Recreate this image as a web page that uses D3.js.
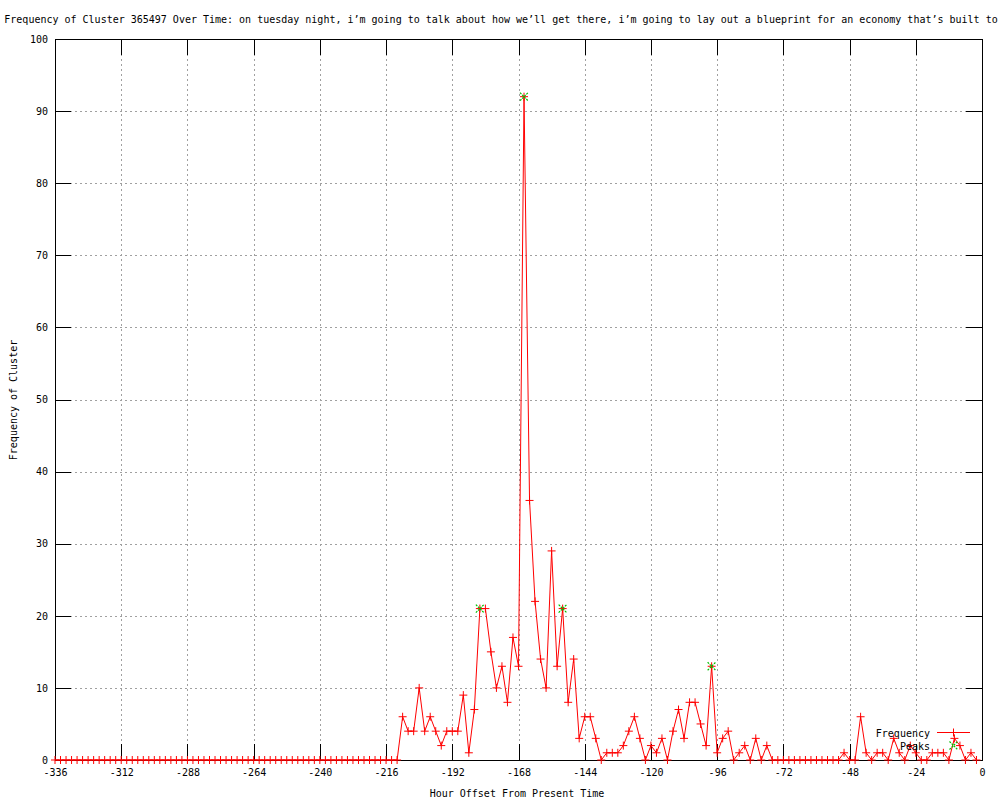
<!DOCTYPE html>
<html>
<head>
<meta charset="utf-8">
<script src="https://cdn.jsdelivr.net/npm/d3@7"></script>
<style>
  html, body { margin: 0; padding: 0; background: #fff; }
  svg { display: block; }
  text { font-family: "DejaVu Sans Mono", monospace; font-size: 10px; fill: #000; }
</style>
</head>
<body>
<svg id="chart" width="1000" height="800"></svg>
<script>
// ---- data ----
const titleText = "Frequency of Cluster 365497 Over Time: on tuesday night, i’m going to talk about how we’ll get there, i’m going to lay out a blueprint for an economy that’s built to";
const xLabel = "Hour Offset From Present Time";
const yLabel = "Frequency of Cluster";

// hours from -336 to -2, step 2
const hours = d3.range(-336, 0, 2);
const freqLeadingZeros = 63; // -336 .. -212
const freqTail = [
  6, 4, 4, 10, 4, 6, 4, 2, 4, 4, 4, 9, 1, 7,          // -210 .. -184
  21, 21, 15, 10, 13, 8, 17, 13, 92, 36, 22, 14, 10,  // -182 .. -158
  29, 13, 21, 8, 14, 3, 6, 6, 3, 0, 1, 1, 1, 2, 4,    // -156 .. -128
  6, 3, 0, 2, 1, 3, 0, 4, 7, 3, 8, 8, 5, 2, 13,       // -126 .. -98
  1, 3, 4, 0, 1, 2, 0, 3, 0, 2, 0,                    // -96 .. -76
  0, 0, 0, 0, 0, 0, 0, 0, 0, 0, 0, 0,                 // -74 .. -52
  1, 0, 0, 6, 1, 0, 1, 1, 0, 3, 1, 0, 2, 1,           // -50 .. -24
  0, 0, 1, 1, 1, 0, 3, 2, 0, 1, 0                     // -22 .. -2
];
const frequency = new Array(freqLeadingZeros).fill(0).concat(freqTail);

const peakHours = [-182, -166, -152, -98];
const peakValues = [21, 92, 21, 13];

const xTicks = d3.range(-336, 1, 24);
const yTicks = d3.range(0, 101, 10);

// ---- layout ----
const svg = d3.select("#chart");
const L = 55, R = 982, T = 39, B = 760;
const x = d3.scaleLinear().domain([-336, 0]).range([L, R]);
const y = d3.scaleLinear().domain([0, 100]).range([B, T]);

// grid
const grid = svg.append("g").attr("stroke", "#a0a0a0").attr("stroke-width", 1)
  .attr("stroke-dasharray", "2,3").attr("shape-rendering", "crispEdges");
xTicks.filter(t => t !== -336 && t !== 0).forEach(t => {
  grid.append("line").attr("x1", Math.round(x(t)) + 0.5).attr("x2", Math.round(x(t)) + 0.5)
    .attr("y1", T).attr("y2", B);
});
yTicks.filter(t => t !== 0 && t !== 100).forEach(t => {
  grid.append("line").attr("y1", Math.round(y(t)) + 0.5).attr("y2", Math.round(y(t)) + 0.5)
    .attr("x1", L).attr("x2", R);
});

// axes with inward ticks (mirrored)
const tickLen = 16;
const fmt = d => String(d);
const xAxisB = d3.axisBottom(x).tickValues(xTicks).tickSizeInner(-tickLen).tickSizeOuter(0).tickPadding(9).tickFormat(fmt);
const xAxisT = d3.axisTop(x).tickValues(xTicks).tickSizeInner(-tickLen).tickSizeOuter(0).tickFormat("");
const yAxisL = d3.axisLeft(y).tickValues(yTicks).tickSizeInner(-tickLen).tickSizeOuter(0).tickPadding(7).tickFormat(fmt);
const yAxisR = d3.axisRight(y).tickValues(yTicks).tickSizeInner(-tickLen).tickSizeOuter(0).tickFormat("");

function styleAxis(g) {
  g.select(".domain").remove();
  g.selectAll("line").attr("stroke", "#000").attr("shape-rendering", "crispEdges");
  g.selectAll("text").attr("font-family", "DejaVu Sans Mono, monospace").attr("font-size", 10).attr("fill", "#000");
}
svg.append("g").attr("transform", `translate(0,${B})`).call(xAxisB).call(styleAxis);
svg.append("g").attr("transform", `translate(0,${T})`).call(xAxisT).call(styleAxis);
svg.append("g").attr("transform", `translate(${L},0)`).call(yAxisL).call(styleAxis);
svg.append("g").attr("transform", `translate(${R},0)`).call(yAxisR).call(styleAxis);

// border
svg.append("rect").attr("x", L + 0.5).attr("y", T + 0.5).attr("width", R - L).attr("height", B - T)
  .attr("fill", "none").attr("stroke", "#000").attr("stroke-width", 1).attr("shape-rendering", "crispEdges");

// data line
const pts = hours.map((h, i) => [h, frequency[i]]);
const line = d3.line().x(d => x(d[0])).y(d => y(d[1]));
svg.append("path").datum(pts).attr("d", line).attr("fill", "none").attr("stroke", "#ff0000").attr("stroke-width", 1);

// + markers
const plus = (cx, cy, s) => `M${cx - s},${cy}H${cx + s}M${cx},${cy - s}V${cy + s}`;
svg.append("path")
  .attr("d", pts.map(d => plus(x(d[0]), y(d[1]), 4)).join(""))
  .attr("stroke", "#ff0000").attr("stroke-width", 1).attr("fill", "none");

// peaks: green x markers
const cross = (cx, cy, s) => `M${cx - s},${cy - s}L${cx + s},${cy + s}M${cx - s},${cy + s}L${cx + s},${cy - s}`;
svg.append("path")
  .attr("d", peakHours.map((h, i) => cross(x(h), y(peakValues[i]), 4)).join(""))
  .attr("stroke", "#00c000").attr("stroke-width", 1.2).attr("stroke-dasharray", "2,1").attr("fill", "none");

// legend
svg.append("text").attr("x", 930).attr("y", 733).attr("text-anchor", "end").attr("dominant-baseline", "central").text("Frequency");
svg.append("line").attr("x1", 937).attr("x2", 970).attr("y1", 732.5).attr("y2", 732.5).attr("stroke", "#ff0000");
svg.append("path").attr("d", plus(953.5, 732.5, 4)).attr("stroke", "#ff0000").attr("fill", "none");
svg.append("text").attr("x", 930).attr("y", 746).attr("text-anchor", "end").attr("dominant-baseline", "central").text("Peaks");
svg.append("path").attr("d", cross(953.5, 745.5, 4)).attr("stroke", "#00c000").attr("stroke-width", 1.2).attr("stroke-dasharray", "2,1").attr("fill", "none");

// titles
svg.append("text").attr("x", 501).attr("y", 19).attr("text-anchor", "middle").attr("dominant-baseline", "central").text(titleText);
svg.append("text").attr("x", 517).attr("y", 793).attr("text-anchor", "middle").attr("dominant-baseline", "central").text(xLabel);
svg.append("text").attr("transform", "translate(13,400) rotate(-90)").attr("text-anchor", "middle").attr("dominant-baseline", "central").text(yLabel);
</script>
</body>
</html>
